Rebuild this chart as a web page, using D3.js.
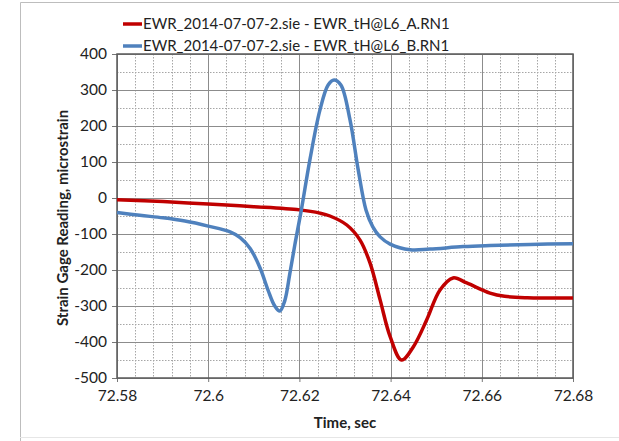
<!DOCTYPE html>
<html><head><meta charset="utf-8">
<script src="https://cdn.jsdelivr.net/npm/d3@7"></script>
<style>body{margin:0;background:#fff}</style>
</head><body>
<svg id="c" width="619" height="441"></svg>
<script>
const seriesNames = ["EWR_2014-07-07-2.sie - EWR_tH@L6_A.RN1", "EWR_2014-07-07-2.sie - EWR_tH@L6_B.RN1"];
const redTime = [72.58,72.5901,72.6,72.61,72.62,72.6245,72.6267,72.6304,72.6333,72.6355,72.6377,72.6399,72.6424,72.645,72.6479,72.6508,72.6537,72.6567,72.6618,72.665,72.67,72.68];
const redVal  = [-5,-10,-17,-24,-33,-42,-50,-75,-117,-181,-283,-385,-450,-413,-339,-256,-222,-236,-264,-273,-277,-278];
const blueTime = [72.58,72.585,72.5901,72.5949,72.6,72.6048,72.607,72.6092,72.6114,72.6131,72.6146,72.6157,72.6168,72.6179,72.619,72.6204,72.6223,72.6245,72.6263,72.6276,72.6291,72.6311,72.6329,72.6346,72.6361,72.6377,72.6399,72.6443,72.6486,72.6559,72.6618,72.6706,72.68];
const blueVal  = [-40,-48,-55,-64,-78,-94,-110,-140,-195,-255,-300,-314,-285,-210,-130,-35,106,244,314,328,314,217,78,-33,-80,-108,-128,-144,-142,-135,-132,-129,-127];
const xTicks = [72.58,72.6,72.62,72.64,72.66,72.68];
const xTickLabels = ["72.58","72.6","72.62","72.64","72.66","72.68"];
const yTicks = [-500,-400,-300,-200,-100,0,100,200,300,400];
const yTickLabels = ["-500","-400","-300","-200","-100","0","100","200","300","400"];
const colors = ["#C00000","#4F81BD"];

const svg = d3.select("#c");
const L=117,R=573,T=54,B=378;
const x = d3.scaleLinear().domain([72.58,72.68]).range([L,R]);
const y = d3.scaleLinear().domain([-500,400]).range([B,T]);
const font = "Lato, 'Open Sans', sans-serif";

// outer frame
svg.append("path").attr("d","M20.5,441 V2.5 H619").attr("fill","none").attr("stroke","#bdbdbd");
svg.append("line").attr("x1",20).attr("x2",619).attr("y1",437.5).attr("y2",437.5).attr("stroke","#e6e6e6");

const g = svg.append("g");
// minor grid
const xMinor = d3.range(0,26).map(i=>72.58+i*0.004).filter((v,i)=>i%5!==0);
const yMinor = d3.range(-450,400,100);
g.selectAll(".xm").data(xMinor).join("line").attr("x1",d=>Math.round(x(d))+0.5).attr("x2",d=>Math.round(x(d))+0.5).attr("y1",T).attr("y2",B)
 .attr("stroke","#a6a6a6").attr("stroke-dasharray","1.5,1.5").attr("stroke-width",1);
g.selectAll(".ym").data(yMinor).join("line").attr("y1",d=>Math.round(y(d))+0.5).attr("y2",d=>Math.round(y(d))+0.5).attr("x1",L).attr("x2",R)
 .attr("stroke","#a6a6a6").attr("stroke-dasharray","1.5,1.5").attr("stroke-width",1);
// major grid
g.selectAll(".xM").data(xTicks).join("line").attr("x1",d=>Math.round(x(d))+0.5).attr("x2",d=>Math.round(x(d))+0.5).attr("y1",T).attr("y2",B)
 .attr("stroke","#8c8c8c").attr("stroke-width",1);
g.selectAll(".yM").data(yTicks).join("line").attr("y1",d=>Math.round(y(d))+0.5).attr("y2",d=>Math.round(y(d))+0.5).attr("x1",L).attr("x2",R)
 .attr("stroke","#8c8c8c").attr("stroke-width",1);

// axes
const yAxis = d3.axisLeft(y).tickValues(yTicks).tickFormat((d,i)=>yTickLabels[i]).tickSize(5).tickPadding(5);
const ya = svg.append("g").attr("transform",`translate(${L},0)`).call(yAxis);
ya.select(".domain").remove();
ya.selectAll(".tick line").attr("stroke","#777");
ya.selectAll("text").attr("font-family",font).attr("font-size",15.5).attr("fill","#222");
const xAxis = d3.axisBottom(x).tickValues(xTicks).tickFormat((d,i)=>xTickLabels[i]).tickSize(4).tickPadding(8);
const xa = svg.append("g").attr("transform",`translate(0,${B})`).call(xAxis);
xa.select(".domain").remove();
xa.selectAll(".tick line").attr("stroke","#777");
xa.selectAll("text").attr("font-family",font).attr("font-size",15.5).attr("fill","#222");

// plot border
svg.append("rect").attr("x",L).attr("y",T).attr("width",R-L).attr("height",B-T).attr("fill","none").attr("stroke","#595959").attr("stroke-width",1.5);

// lines
const line = d3.line().x(d=>x(d[0])).y(d=>y(d[1])).curve(d3.curveCatmullRom.alpha(0.5));
const red = redTime.map((t,i)=>[t,redVal[i]]);
const blue = blueTime.map((t,i)=>[t,blueVal[i]]);
[red,blue].forEach((s,i)=>{
  svg.append("path").datum(s).attr("d",line).attr("fill","none").attr("stroke",colors[i]).attr("stroke-width",3.5).attr("stroke-linejoin","round");
});

// titles
svg.append("text").attr("x",345).attr("y",428).attr("text-anchor","middle").attr("font-family",font).attr("font-weight","bold").attr("font-size",15).attr("fill","#222").text("Time, sec");
svg.append("text").attr("transform","translate(68,218) rotate(-90)").attr("text-anchor","middle").attr("font-family",font).attr("font-weight","bold").attr("font-size",15).attr("fill","#222").text("Strain Gage Reading, microstrain");

// legend
const lg = svg.append("g");
seriesNames.forEach((n,i)=>{
  const yy = 24 + i*22;
  lg.append("line").attr("x1",123).attr("x2",142).attr("y1",yy).attr("y2",yy).attr("stroke",colors[i]).attr("stroke-width",3.5);
  lg.append("text").attr("x",143).attr("y",yy+5).attr("font-family",font).attr("font-size",15).attr("fill","#222").text(n);
});
</script>
</body></html>
